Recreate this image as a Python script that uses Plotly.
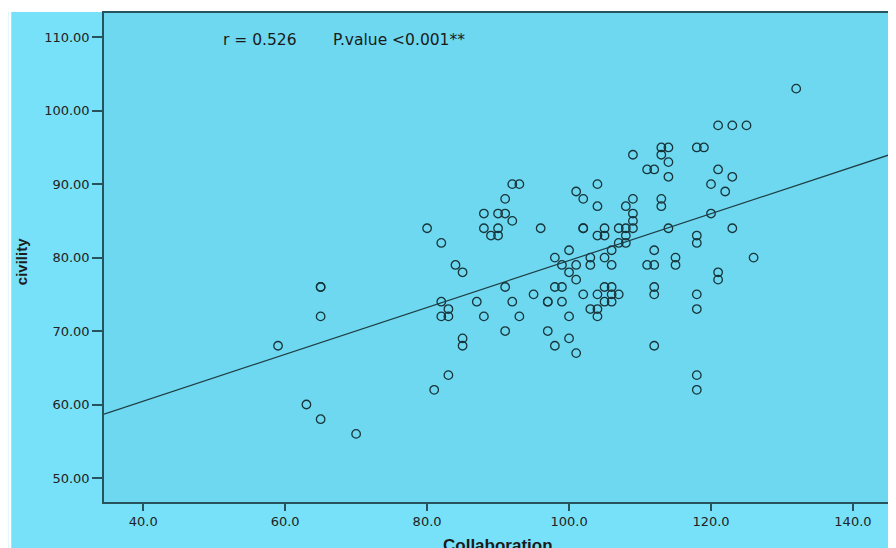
import plotly.graph_objects as go

# Data (Collaboration vs civility)
collaboration = [59, 63, 65, 65, 65, 65, 70, 80, 81, 82, 82, 82, 83, 83, 83, 84, 85, 85, 85,
                 87, 88, 88, 88, 89, 90, 90, 90, 91, 91, 91, 91, 92, 92, 92, 93, 93, 95, 96,
                 97, 97, 97, 98, 98, 98, 99, 99, 99, 100, 100, 100, 100, 101, 101, 101, 101,
                 102, 102, 102, 102, 103, 103, 103, 104, 104, 104, 104, 104, 104, 105, 105,
                 105, 105, 105, 106, 106, 106, 106, 106, 107, 107, 107, 108, 108, 108, 108,
                 109, 109, 109, 109, 109, 111, 111, 112, 112, 112, 112, 112, 112, 113, 113,
                 113, 113, 114, 114, 114, 114, 115, 115, 118, 118, 118, 118, 118, 118, 118,
                 119, 120, 120, 121, 121, 121, 121, 122, 123, 123, 123, 125, 126, 132]
civility = [68, 60, 58, 76, 76, 72, 56, 84, 62, 82, 74, 72, 73, 72, 64, 79, 78, 69, 68,
            74, 86, 84, 72, 83, 86, 84, 83, 88, 86, 76, 70, 90, 85, 74, 90, 72, 75, 84,
            74, 74, 70, 80, 76, 68, 79, 76, 74, 81, 78, 72, 69, 89, 79, 77, 67,
            88, 84, 84, 75, 80, 79, 73, 90, 87, 83, 75, 73, 72, 84, 83,
            80, 76, 74, 81, 79, 76, 75, 74, 84, 82, 75, 87, 84, 83, 82,
            94, 88, 86, 85, 84, 92, 79, 92, 81, 79, 76, 75, 68, 95, 94,
            88, 87, 95, 93, 91, 84, 80, 79, 95, 83, 82, 75, 73, 64, 62,
            95, 90, 86, 98, 92, 78, 77, 89, 98, 91, 84, 98, 80, 103]

# Fitted line
fit_intercept = 47.7
fit_slope = 0.319

x_range = [34.48, 145.5]
y_range = [46.73, 113.3]
x_tick_values = [40, 60, 80, 100, 120, 140]
x_tick_labels = ["40.0", "60.0", "80.0", "100.0", "120.0", "140.0"]
y_tick_values = [50, 60, 70, 80, 90, 100, 110]
y_tick_labels = ["50.00", "60.00", "70.00", "80.00", "90.00", "100.00", "110.00"]

stat_r = "r = 0.526"
stat_p = "P.value <0.001**"

outer_bg = "#77E1F9"
inner_bg = "#6DD8EF"
frame = "#27535c"
ink = "#1b1b1b"
tick_font = dict(family="DejaVu Sans", size=13, color="#222222")

fig = go.Figure()
fig.add_trace(go.Scatter(
    x=collaboration, y=civility, mode="markers",
    marker=dict(symbol="circle-open", size=8.5, color="#17343a", line=dict(width=1.3)),
    showlegend=False, hoverinfo="x+y"))

fig.add_trace(go.Scatter(
    x=x_range, y=[fit_intercept + fit_slope * v for v in x_range], mode="lines",
    line=dict(color="#1f3d44", width=1.2), showlegend=False, hoverinfo="skip"))

fig.update_layout(
    width=888, height=540, autosize=False,
    margin=dict(l=96, r=2, t=5, b=46),
    paper_bgcolor=outer_bg, plot_bgcolor=inner_bg,
    showlegend=False,
    xaxis=dict(range=x_range, tickvals=x_tick_values, ticktext=x_tick_labels,
               ticks="outside", ticklen=7, tickwidth=1.5, tickcolor=frame,
               showline=True, mirror=True, linecolor=frame, linewidth=1.5,
               showgrid=False, zeroline=False, tickfont=tick_font),
    yaxis=dict(range=y_range, tickvals=y_tick_values, ticktext=y_tick_labels,
               ticks="outside", ticklen=10, tickwidth=1.5, tickcolor=frame,
               showline=True, mirror=True, linecolor=frame, linewidth=1.5,
               showgrid=False, zeroline=False, tickfont=tick_font),
)

# thin white strips on the top and left edges of the picture
fig.add_shape(type="rect", xref="paper", yref="paper", layer="below",
              x0=-96 / 790, x1=-93 / 790, y0=-46 / 489, y1=494 / 489,
              fillcolor="white", line=dict(width=0))
fig.add_shape(type="rect", xref="paper", yref="paper", layer="below",
              x0=-96 / 790, x1=792 / 790, y0=490 / 489, y1=494 / 489,
              fillcolor="white", line=dict(width=0))

fig.add_annotation(text=stat_r, xref="paper", yref="paper", x=117 / 790, y=462 / 489,
                   xanchor="left", yanchor="middle", showarrow=False,
                   font=dict(family="DejaVu Sans", size=15.5, color=ink))
fig.add_annotation(text=stat_p, xref="paper", yref="paper", x=228 / 790, y=462 / 489,
                   xanchor="left", yanchor="middle", showarrow=False,
                   font=dict(family="DejaVu Sans", size=15.5, color=ink))
fig.add_annotation(text="<b>Collaboration</b>", xref="paper", yref="paper", x=0.5,
                   y=-32 / 489, xanchor="center", yanchor="top", showarrow=False,
                   font=dict(family="Liberation Sans", size=17, color=ink))
fig.add_annotation(text="<b>civility</b>", xref="paper", yref="paper", x=-82 / 790,
                   y=240 / 489, xanchor="center", yanchor="middle", textangle=-90,
                   showarrow=False, font=dict(family="Liberation Sans", size=15, color=ink))

fig.write_html("out.html")
